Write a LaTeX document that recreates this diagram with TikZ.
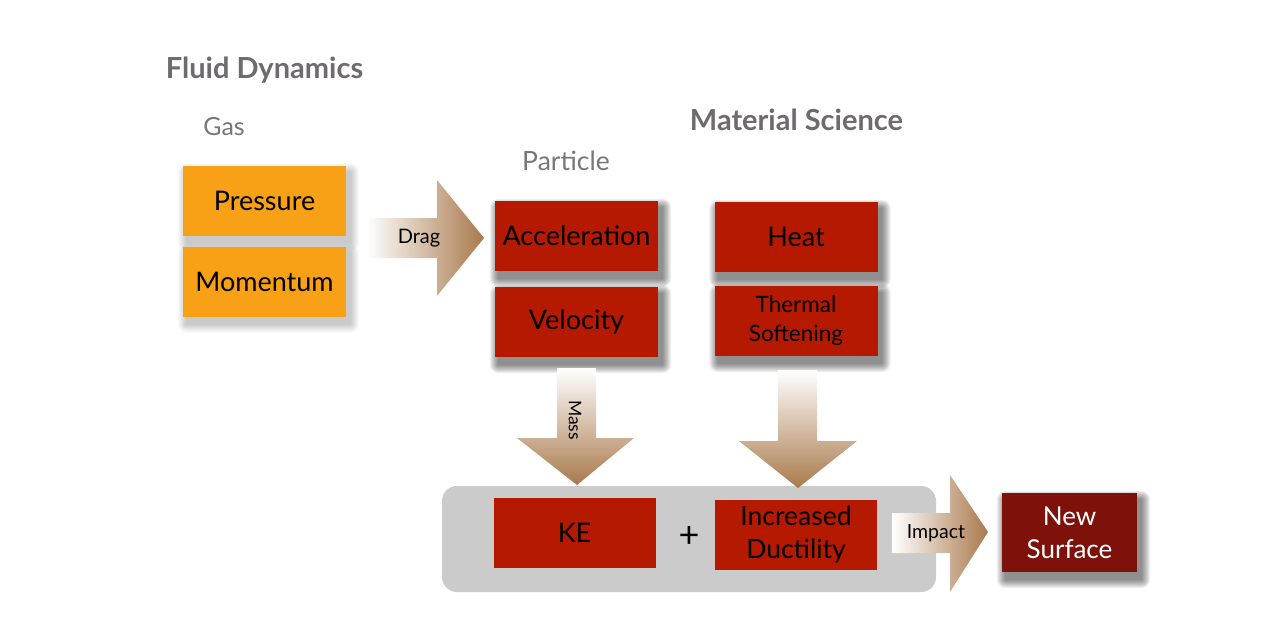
\documentclass[tikz,border=0pt]{standalone}
\usepackage{fontspec}
\setmainfont{Lato}
\definecolor{orangebox}{HTML}{F9A116}
\definecolor{redbox}{HTML}{B51A00}
\definecolor{darkredbox}{HTML}{7E1109}
\definecolor{titlegray}{HTML}{6E6A6D}
\definecolor{lightgray}{HTML}{777777}
\definecolor{arrowbrown}{HTML}{A9794C}
\definecolor{panelgray}{HTML}{CBCBCB}
\pgfdeclarelayer{bg}
\pgfdeclarelayer{shad}
\pgfsetlayers{bg,shad,main}
\usetikzlibrary{calc}
% #1 node name, #2 opacity per step
\newcommand{\softshadow}[2]{%
  \begin{pgfonlayer}{shad}
    \foreach \k in {1,...,9}{
      \pgfmathsetmacro{\e}{10-\k}
      \fill[black, opacity=#2, rounded corners=\e pt]
        ($(#1.north west)+(4-\e,7-\e)$) rectangle ($(#1.south east)+(4+\e,7+\e)$);
    }
  \end{pgfonlayer}}
\begin{document}
\begin{tikzpicture}[x=1pt,y=-1pt,
  box/.style={minimum width=163pt, minimum height=70pt, inner sep=0pt, align=center,
    font=\fontsize{27}{30}\selectfont},
  obox/.style={box, fill=orangebox},
  rbox/.style={box, fill=redbox},
  title/.style={font=\fontsize{29}{32}\selectfont\bfseries, text=titlegray},
  sub/.style={font=\fontsize{25}{28}\selectfont, text=lightgray},
  lbl/.style={font=\fontsize{19.5}{22}\selectfont, text=black},
  hshade/.style={left color=white, right color=arrowbrown},
  vshade/.style={top color=white, bottom color=arrowbrown}
]
\useasboundingbox (0,0) rectangle (1280,630);
\begin{pgfonlayer}{bg}
\fill[white] (0,0) rectangle (1280,630);
\end{pgfonlayer}

% titles
\node[title] (fd) at (264.5,70) {Fluid Dynamics};
\node[title] (ms) at (796.5,120) {Material Science};
\node[sub] (gas) at (224,127) {Gas};
\node[sub, font=\fontsize{26.5}{28}\selectfont] (part) at (566,161) {Particle};

% panel
\fill[panelgray, rounded corners=15pt] (442,486) rectangle (936,592);

% boxes
\node[obox] (pres) at (264.5,200.5) {Pressure};
\node[obox] (mom) at (264.5,281.5) {Momentum};
\node[rbox] (acc) at (576.5,236) {Acceleration};
\node[rbox] (vel) at (576.5,322) {Velocity};
\node[rbox] (heat) at (796,237) {Heat};
\node[rbox, font=\fontsize{22.5}{29}\selectfont] (therm) at (796,321) {Thermal\\Softening};
\node[rbox, minimum width=162pt] (ke) at (574.5,533) {KE};
\node[rbox, minimum width=162pt, font=\fontsize{26.5}{33}\selectfont] (duct) at (796,534.5) {Increased\\Ductility};
\node[font=\fontsize{36}{36}\selectfont] (plus) at (689,537) {+};
\node[box, fill=darkredbox, minimum width=135pt, minimum height=79pt, text=white, font=\fontsize{26}{33}\selectfont] (news) at (1069.5,532.5) {New\\Surface};

\softshadow{pres}{0.025}
\softshadow{mom}{0.025}
\softshadow{acc}{0.06}
\softshadow{vel}{0.06}
\softshadow{heat}{0.06}
\softshadow{therm}{0.06}
\softshadow{news}{0.06}

% Drag arrow
\shade[hshade] (366,218) -- (437,218) -- (437,180) -- (484,238) -- (437,296) -- (437,258) -- (366,258) -- cycle;
\node[lbl, font=\fontsize{20}{22}\selectfont] (drag) at (419,238) {Drag};

% Mass arrow
\shade[vshade] (557,368) -- (596,368) -- (596,438) -- (634,438) -- (577,485) -- (517,438) -- (557,438) -- cycle;
\node[lbl, font=\fontsize{17.5}{20}\selectfont, rotate=-90] (mass) at (575,420) {Mass};

% Thermal arrow
\shade[vshade] (778,370) -- (817,370) -- (817,441) -- (857,441) -- (798,488) -- (739,441) -- (778,441) -- cycle;

% Impact arrow
\shade[hshade] (892,513) -- (950,513) -- (950,475) -- (988,532) -- (950,592) -- (950,553) -- (892,553) -- cycle;
\node[lbl] (imp) at (936,533) {Impact};
\end{tikzpicture}
\end{document}
